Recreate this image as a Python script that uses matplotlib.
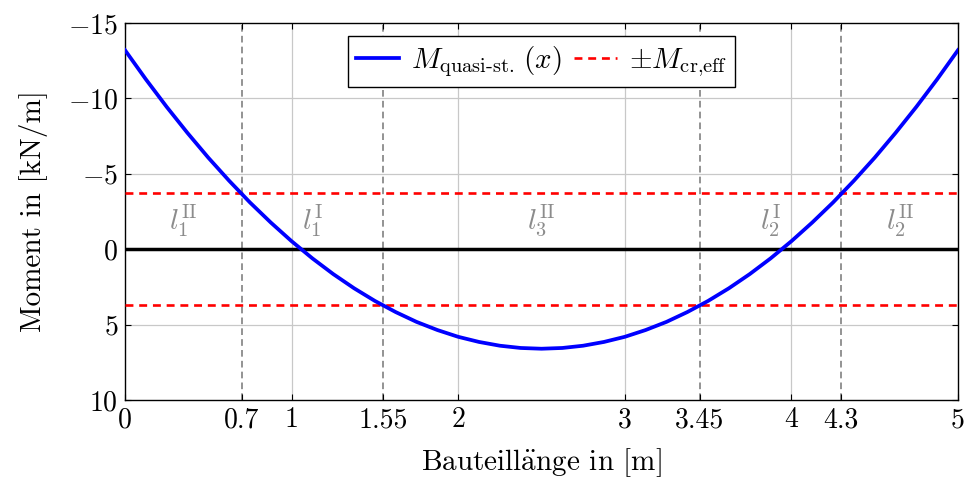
import matplotlib
matplotlib.use("Agg")
import matplotlib.pyplot as plt

plt.rcParams['font.family'] = ['cmr10', 'DejaVu Serif']
plt.rcParams['mathtext.fontset'] = 'cm'
plt.rcParams['axes.formatter.use_mathtext'] = True

# Moment curve
x_vals = [0.0, 0.125, 0.25, 0.375, 0.5, 0.625, 0.75, 0.875, 1.0, 1.125, 1.25,
          1.375, 1.5, 1.625, 1.75, 1.875, 2.0, 2.125, 2.25, 2.375, 2.5,
          2.625, 2.75, 2.875, 3.0, 3.125, 3.25, 3.375, 3.5, 3.625, 3.75,
          3.875, 4.0, 4.125, 4.25, 4.375, 4.5, 4.625, 4.75, 4.875, 5.0]
m_half = [-13.2, -11.27, -9.44, -7.71, -6.07, -4.54, -3.10, -1.77, -0.53, 0.61, 1.65,
          2.59, 3.43, 4.17, 4.82, 5.36, 5.81, 6.15, 6.40, 6.55, 6.6]
m_vals = m_half + m_half[-2::-1]

m_cr = 3.7
boundaries = [0.7, 1.55, 3.45, 4.3]
x_ticks = [0, 0.7, 1, 1.55, 2, 3, 3.45, 4, 4.3, 5]
x_tick_labels = ["0", "0.7", "1", "1.55", "2", "3", "3.45", "4", "4.3", "5"]
y_ticks = [-15, -10, -5, 0, 5, 10]
region_labels = [r"$l_1^{\mathrm{II}}$", r"$l_1^{\mathrm{I}}$", r"$l_3^{\mathrm{II}}$",
                 r"$l_2^{\mathrm{I}}$", r"$l_2^{\mathrm{II}}$"]
region_x = [0.35, 1.125, 2.5, 3.875, 4.65]

fig = plt.figure(figsize=(9.67, 4.78), dpi=100)
ax = fig.add_axes([125/967, 78/478, 833/967, 377/478])

for gx in [1, 2, 3, 4]:
    ax.axvline(gx, color='#c8c8c8', lw=0.9, zorder=0)
for gy in [-10, -5, 5]:
    ax.axhline(gy, color='#c8c8c8', lw=0.9, zorder=0)

for b in boundaries:
    ax.axvline(b, color='#808080', lw=1.2, ls=(0, (4, 2.5)), zorder=1)

ax.axhline(0, color='black', lw=2.5, zorder=2)
l1, = ax.plot(x_vals, m_vals, color='blue', lw=2.7, zorder=4,
              label=r"$M_{\mathrm{quasi\text{-}st.}}\,(x)$")
l2, = ax.plot([0, 5], [-m_cr, -m_cr], color='red', lw=1.9, ls=(0, (3, 2.2)), zorder=3,
              label=r"$\pm M_{\mathrm{cr{,}eff}}$")
ax.plot([0, 5], [m_cr, m_cr], color='red', lw=1.9, ls=(0, (3, 2.2)), zorder=3)

for lx, lt in zip(region_x, region_labels):
    ax.text(lx, -1.9, lt, color='#8c8c8c', fontsize=21, ha='center', va='center')

ax.set_xlim(0, 5)
ax.set_ylim(10, -15)
ax.set_xticks(x_ticks)
ax.set_xticklabels(x_tick_labels)
ax.set_yticks(y_ticks)
ax.tick_params(direction='in', top=True, right=True, labelsize=20, length=4, pad=5)
for s in ax.spines.values():
    s.set_linewidth(1.0)
ax.set_xlabel(r"Bauteill$\mathrm{\ddot{a}}$nge in [m]", fontsize=21, labelpad=9)
ax.set_ylabel("Moment in [kN/m]", fontsize=21, labelpad=14)

leg = ax.legend(handles=[l1, l2], loc='upper center', ncol=2, fontsize=21,
                frameon=True, fancybox=False, edgecolor='black', framealpha=1,
                handlelength=1.5, columnspacing=0.4, handletextpad=0.4,
                borderpad=0.28, borderaxespad=0.45, bbox_to_anchor=(0.5, 1.0))
leg.get_frame().set_linewidth(1.0)

fig.savefig("out.png", dpi=100)
